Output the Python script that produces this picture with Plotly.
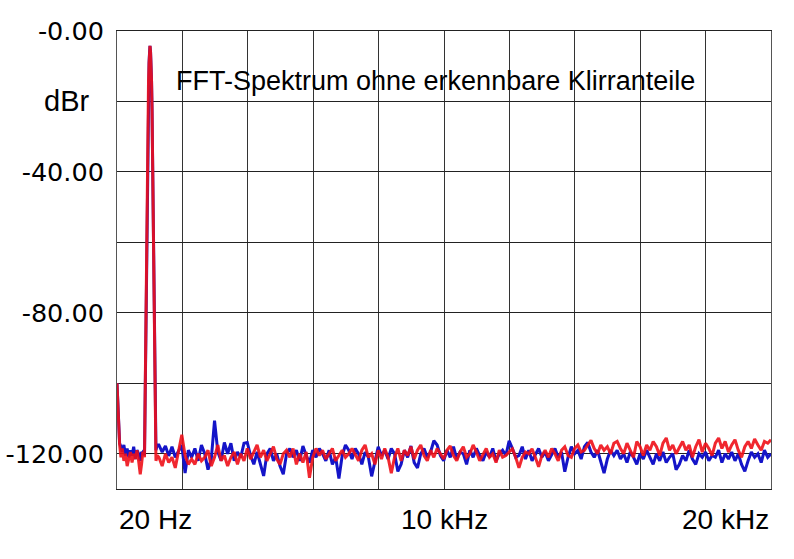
import plotly.graph_objects as go

# ---------------- data ----------------
low_freqs = [20, 40, 60, 80, 100, 140, 180, 230, 280, 330,
             380, 430, 480, 530, 580, 630, 680, 730, 770, 810,
             840, 860, 875, 890, 905, 920, 937, 952, 968, 983,
             1000, 1015, 1028, 1045, 1060, 1075, 1090, 1105, 1120, 1135,
             1150, 1165, 1180, 1195, 1210, 1250]

red_low = [-100.0, -104.0, -109.0, -114.0, -117.5, -121.0, -118.5, -122.0, -120.0, -123.5,
           -121.0, -119.5, -122.5, -120.0, -121.5, -119.0, -122.0, -125.8, -123.0, -119.5,
           -120.0, -121.0, -108.0, -92.0, -75.0, -60.0, -46.0, -30.0, -20.0, -14.0,
           -9.0, -6.0, -4.2, -6.0, -9.0, -14.0, -22.0, -35.0, -50.0, -65.0,
           -80.0, -95.0, -108.0, -119.0, -122.0, -120.5]

blue_low = [-100.0, -104.0, -109.0, -114.0, -117.0, -118.0, -119.5, -117.5, -120.5, -118.5,
            -121.0, -119.0, -120.5, -118.0, -121.5, -119.0, -120.0, -122.0, -119.5, -120.0,
            -119.0, -120.5, -108.0, -92.0, -75.0, -60.0, -46.0, -30.0, -20.0, -14.0,
            -9.0, -6.0, -4.2, -6.0, -9.0, -14.0, -22.0, -35.0, -50.0, -65.0,
            -80.0, -95.0, -108.0, -118.0, -119.0, -117.5]

# FFT bins from 1.3 kHz to 20 kHz, 100 Hz apart
grid_freqs = list(range(1300, 20001, 100))

blue_noise = [
    -117.5, -119.5, -117.8, -120.6, -118.0, -121.0, -119.0, -117.5, -125.5, -119.0,
    -121.0, -118.5, -122.0, -117.5, -120.0, -124.5, -121.5, -110.6, -119.5, -122.0,
    -116.8, -120.0, -117.0, -122.0, -119.5, -121.0, -117.0, -116.8, -120.5, -123.0,
    -119.5, -123.0, -126.3, -120.0, -118.5, -122.0, -120.0, -123.5, -125.8, -120.0,
    -118.5, -121.0, -119.0, -122.0, -117.8, -120.5, -122.5, -119.0, -121.0, -118.5,
    -120.0, -122.0, -119.0, -123.0, -121.0, -127.0, -120.5, -117.5, -119.0, -121.5,
    -118.5, -120.0, -123.0, -119.5, -121.0, -126.4, -122.0, -118.0, -120.5, -119.0,
    -121.5, -118.5, -120.0, -125.0, -123.0, -119.0, -121.0, -117.8, -122.5, -124.0,
    -120.0, -118.5, -121.0, -119.5, -116.3, -117.5, -120.5, -122.0, -119.0, -121.0,
    -118.0, -121.5, -119.5, -120.0, -123.0, -119.0, -121.0, -118.5, -120.5, -122.0,
    -119.5, -121.0, -118.5, -122.0, -120.0, -119.0, -120.5, -116.3, -118.5, -121.0,
    -120.5, -118.0, -121.5, -119.0, -122.0, -120.0, -118.5, -121.0, -119.5, -122.0,
    -120.0, -118.5, -121.0, -119.5, -125.1, -121.0, -118.0, -120.0, -119.0, -121.5,
    -118.0, -116.8, -119.5, -121.0, -119.0, -122.0, -125.5, -121.5, -119.0, -120.5,
    -119.0, -121.5, -120.0, -122.5, -119.5, -121.0, -123.0, -120.0, -121.5, -119.0,
    -121.0, -123.0, -120.0, -122.0, -119.5, -122.5, -121.0, -120.0, -124.5, -123.0,
    -120.5, -122.0, -119.0, -121.5, -123.0, -120.0, -121.0, -119.5, -122.0, -120.5,
    -121.0, -119.0, -122.5, -120.0, -121.5, -119.5, -122.0, -120.0, -123.0, -125.0,
    -122.0, -119.5, -121.0, -120.0, -122.5, -119.0, -121.0, -120.0,
]

red_noise = [
    -121.0, -123.5, -120.0, -122.5, -121.0, -124.0, -119.5, -114.6, -120.5, -123.0,
    -121.5, -123.0, -120.0, -122.0, -121.0, -119.0, -123.5, -121.0, -117.5, -122.0,
    -120.5, -123.5, -121.0, -119.5, -123.0, -120.0, -122.0, -118.5, -121.5, -119.5,
    -117.5, -121.0, -119.0, -122.0, -120.0, -118.0, -121.5, -123.0, -120.0, -119.0,
    -121.0, -118.5, -123.0, -120.0, -122.5, -119.5, -126.8, -121.0, -118.5, -120.5,
    -119.0, -121.5, -120.0, -118.5, -122.0, -120.5, -119.0, -121.0, -120.0, -118.5,
    -120.5, -122.0, -119.0, -117.5, -121.0, -120.0, -123.0, -119.0, -121.5, -118.5,
    -121.0, -125.5, -121.0, -118.5, -122.0, -119.0, -120.5, -118.0, -121.5, -119.0,
    -117.5, -120.5, -122.0, -119.0, -121.0, -118.5, -120.0, -121.5, -119.0, -117.8,
    -120.5, -122.0, -119.5, -118.0, -121.0, -120.0, -117.5, -119.5, -122.0, -120.0,
    -118.5, -121.0, -120.0, -122.5, -119.0, -121.0, -120.5, -119.5, -118.6, -121.0,
    -124.0, -121.0, -119.5, -120.0, -118.6, -121.0, -123.7, -120.5, -119.0, -121.0,
    -118.5, -120.0, -122.0, -119.0, -118.0, -120.5, -121.0, -118.5, -117.5, -119.5,
    -119.0, -117.5, -116.2, -118.5, -120.0, -117.5, -119.0, -118.0, -120.0, -117.0,
    -116.5, -118.5, -120.0, -117.0, -119.0, -121.0, -116.5, -118.0, -120.5, -117.5,
    -119.0, -116.5, -118.0, -120.5, -117.0, -115.5, -119.0, -117.5, -120.0, -118.0,
    -116.5, -119.0, -117.5, -121.0, -118.0, -116.0, -119.5, -117.0, -118.5, -120.5,
    -117.0, -115.5, -118.5, -116.5, -119.5, -117.5, -116.0, -119.0, -121.0, -118.0,
    -116.5, -118.5, -115.8, -117.5, -119.0, -116.5, -117.0, -116.0,
]

y_tick_vals = [0, -20, -40, -60, -80, -100, -120]
y_tick_text = ["-0.00", "", "-40.00", "", "-80.00", "", "-120.00"]
x_labels = ["20 Hz", "10 kHz", "20 kHz"]
x_label_pos = [20, 10010, 20000]
title_text = "FFT-Spektrum ohne erkennbare Klirranteile"
unit_text = "dBr"

# ---------------- figure ----------------
freqs = low_freqs + grid_freqs
blue_vals = blue_low + blue_noise
red_vals = red_low + red_noise

fig = go.Figure()
fig.add_trace(go.Scatter(x=freqs, y=blue_vals, mode="lines",
                         line=dict(color="#1414c8", width=3), showlegend=False))
fig.add_trace(go.Scatter(x=freqs, y=red_vals, mode="lines",
                         line=dict(color="rgba(238,16,24,0.9)", width=3), showlegend=False))

x_grid = [20 + 1998 * k for k in range(11)]

fig.update_layout(
    width=794, height=559,
    margin=dict(l=117, r=23, t=31, b=70, autoexpand=False),
    paper_bgcolor="white", plot_bgcolor="white",
    font=dict(family="Liberation Sans, Arial, sans-serif", color="black"),
    xaxis=dict(range=[20, 20000], tickvals=x_grid, showticklabels=False,
               showgrid=True, gridcolor="#333333", gridwidth=1,
               showline=True, linecolor="#222222", linewidth=1, mirror=True,
               zeroline=False, ticks="", automargin=False),
    yaxis=dict(range=[-130, 0], tickvals=y_tick_vals, ticktext=y_tick_text,
               showgrid=True, gridcolor="#222222", gridwidth=1,
               showline=True, linecolor="#555555", linewidth=1, mirror=True,
               zeroline=False, ticks="", ticklabelstandoff=7, automargin=False,
               tickfont=dict(family="DejaVu Sans", size=25.5, color="black")),
)

fig.add_annotation(text=title_text, xref="paper", yref="paper",
                   x=0.087, y=0.891, xanchor="left", yanchor="middle",
                   showarrow=False, font=dict(size=27, color="black"))
fig.add_annotation(text=unit_text, xref="paper", yref="y",
                   x=-0.04, y=-20, xanchor="right", yanchor="middle",
                   showarrow=False, font=dict(size=29, color="black"))

anchors = ["left", "center", "right"]
for lab, pos, anc in zip(x_labels, x_label_pos, anchors):
    fig.add_annotation(text=lab, xref="x", yref="paper", x=pos, y=-0.066,
                       xanchor=anc, yanchor="middle", showarrow=False,
                       font=dict(size=28, color="black"))

fig.write_html("out.html")
